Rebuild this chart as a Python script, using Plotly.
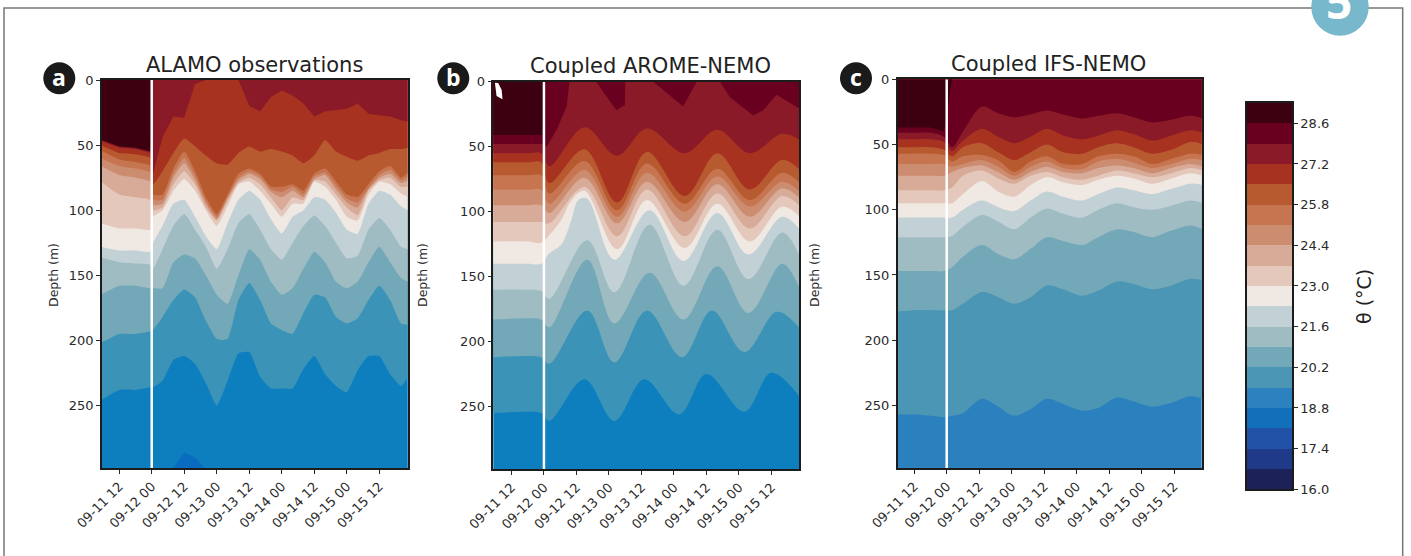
import plotly.graph_objects as go

W, H = 1411, 556
LEVELS = [16.0, 16.7, 17.4, 18.1, 18.8, 19.5, 20.2, 20.9, 21.6, 22.3, 23.0, 23.7, 24.4, 25.1, 25.8, 26.5, 27.2, 27.9, 28.6]
BAND_COLORS = ["#1c2258", "#203a8a", "#2252a8", "#1270ba", "#2b82be", "#4b95b5", "#72a8b8", "#9fbcc3", "#c2d1d6",
               "#efe8e3", "#e5c8bc", "#d8aa98", "#cc8c70", "#c67550", "#b85a30", "#a83220", "#8a1a28", "#6a0020", "#3c0010"]
CBAR_TICKS = [16.0, 17.4, 18.8, 20.2, 21.6, 23.0, 24.4, 25.8, 27.2, 28.6]
TICK_HOURS = [-12, 0, 12, 24, 36, 48, 60, 72, 84]
TICK_LABELS = ["09-11 12", "09-12 00", "09-12 12", "09-13 00", "09-13 12", "09-14 00", "09-14 12", "09-15 00", "09-15 12"]
DEPTH_TICKS = [0, 50, 100, 150, 200, 250]

# ---- ALAMO observations: isotherm depth (m) at each hour after 09-12 00
T_A = [-18.8, -12, -6, -0.5, 0.5, 4, 8, 12, 16, 20, 24, 28, 32, 36, 40, 44, 48, 52, 56, 60, 64, 68, 72, 76, 80, 84, 88, 92, 94.6]
A_18_8 = [300, 300, 300, 300, 300, 300, 298, 286, 290, 299, 300, 300, 300, 300, 300, 300, 300, 300, 300, 300, 300, 300, 300, 300, 300, 300, 300, 300, 300]
A_19_5 = [246, 238, 238, 236, 236, 231, 215, 212, 218, 233, 250, 231, 210, 209, 228, 237, 237, 237, 222, 212, 226, 235, 240, 223, 212, 212, 226, 235, 228]
A_20_2 = [202, 195, 195, 193, 192, 182, 169, 161, 167, 185, 199, 199, 169, 156, 169, 187, 192, 195, 179, 165, 167, 182, 187, 183, 169, 158, 169, 187, 188]
A_20_9 = [165, 158, 158, 160, 160, 160, 140, 134, 137, 150, 165, 172, 150, 130, 138, 155, 165, 160, 145, 132, 140, 155, 160, 155, 140, 128, 140, 152, 155]
A_21_6 = [136, 140, 141, 142, 145, 130, 112, 103, 115, 128, 145, 130, 110, 103, 115, 130, 138, 125, 112, 104, 112, 125, 137, 135, 115, 106, 115, 128, 130]
A_22_3 = [128, 131, 131, 132, 125, 112, 95, 92, 105, 120, 130, 110, 92, 85, 92, 107, 118, 105, 100, 90, 92, 102, 115, 118, 95, 85, 88, 97, 100]
A_23_0 = [110, 114, 114, 115, 105, 100, 85, 76, 85, 100, 112, 97, 80, 78, 85, 95, 105, 95, 95, 78, 82, 92, 105, 108, 88, 78, 80, 87, 90]
A_23_7 = [78, 88, 90, 92, 100, 98, 80, 70, 80, 98, 108, 93, 79, 75, 80, 90, 100, 90, 92, 77, 78, 88, 98, 104, 85, 77, 75, 82, 82]
A_24_4 = [66, 73, 75, 78, 96, 95, 75, 64, 77, 95, 107, 91, 77, 72, 76, 86, 90, 85, 90, 76, 73, 84, 94, 98, 84, 75, 72, 79, 77]
A_25_1 = [60, 66, 68, 71, 92, 92, 72, 60, 74, 93, 105, 90, 75, 70, 74, 84, 86, 82, 88, 74, 71, 81, 91, 94, 83, 73, 69, 77, 74]
A_25_8 = [54, 61, 63, 66, 88, 88, 68, 55, 70, 90, 103, 88, 72, 68, 72, 82, 82, 80, 85, 72, 68, 78, 88, 90, 80, 70, 66, 75, 71]
A_26_5 = [50, 56, 57, 60, 80, 70, 56, 45, 51, 58, 64, 65, 56, 51, 55, 53, 55, 58, 64, 58, 46, 55, 59, 62, 58, 56, 53, 53, 52]
A_27_2 = [47, 52, 53, 56, 72, 44, 28, 29, 3, 0, 0, 0, 0, 20, 24, 13, 8, 12, 18, 28, 24, 23, 22, 18, 26, 27, 28, 31, 32]
A_28_6 = [46, 51, 52, 55, 0, 0, 0, 0, 0, 0, 0, 0, 0, 0, 0, 0, 0, 0, 0, 0, 0, 0, 0, 0, 0, 0, 0, 0, 0]

# ---- Coupled AROME-NEMO: each isotherm is read at its own crests and troughs
T_B_DEEP = [-18.8, -6, -1, 2, 15, 26, 37, 50, 60, 74, 84, 94.6]
B_19_5 = [255, 254, 255, 261, 229, 261, 229, 256, 225, 254, 224, 243]
T_B_20_2 = [-18.8, -6, -1, 2, 16, 26, 38, 51, 62, 74, 86, 94.6]
B_20_2 = [212, 211, 212, 217, 176, 216, 176, 212, 176, 208, 177, 190]
T_B_MID = [-18.8, -6, -1, 2, 16, 26, 39, 51.5, 64, 75.5, 88, 94.6]
B_20_9 = [183, 182, 183, 189, 137, 186, 147, 183, 142, 178, 140, 160]
B_21_6 = [160, 160, 161, 167, 122, 162, 110, 157, 114, 152, 116, 135]
T_B_22_3 = [-18.8, -6, -1, 2, 6.5, 10.2, 12.7, 16, 26, 39, 51.5, 64, 75.5, 88, 94.6]
B_22_3 = [140, 140, 140, 132, 125, 106, 91, 90, 137, 99, 138, 101, 133, 104, 114]
T_B_23_0 = [-18.8, -6, -1, 2, 6.5, 10.2, 15, 27, 38, 52, 64, 76, 88, 94.6]
B_23_0 = [123, 123, 124, 118, 106, 91, 84, 129, 91, 128, 94, 123, 96, 104]
T_B_UP = [-18.8, -6, -1, 2, 15, 27, 38, 52, 64, 76, 88, 94.6]
B_23_7 = [108, 108, 108, 109, 81, 119, 83, 119, 86, 113, 88, 96]
B_24_4 = [95, 95, 95, 101, 74, 109, 77, 108, 79, 104, 82, 90]
B_25_1 = [83, 83, 83, 94, 68, 104, 70, 100, 73, 96, 77, 85]
B_25_8 = [72, 72, 72, 86, 61, 99, 63, 94, 67, 91, 70, 78]
B_26_5 = [62, 62, 62, 78, 52, 93, 54, 88, 55, 83, 60, 68]
B_27_2 = [55, 55, 55, 65, 35, 57, 36, 55, 37, 55, 40, 45]
T_B_27_9 = [-18.8, -6, -1, 1, 4.7, 8.4, 9.4, 19.4, 21.9, 26.8, 29.9, 30, 40.4, 51.4, 56.4, 65, 68.7, 77.3, 81, 85.9, 94.6]
B_27_9 = [48, 48, 48, 50, 37, 19, 0, 0, 8, 22, 18, 0, 0, 19, 0, 0, 12, 26, 22, 10, 21]
T_B_28_6 = [-18.8, -6, -0.5, 0.5, 94.6]
B_28_6 = [41, 41, 41, 0, 0]
GAP_T = [-18.1, -17.5, -15.3, -15.6, -16.9]
GAP_D = [0.8, 11, 13.5, 6.4, 1]

# ---- Coupled IFS-NEMO
T_C = [-18.8, -12, -6, -1, 2, 6, 13, 19, 25, 31, 37, 43, 50, 56, 63, 69, 76, 83, 90, 94.6]
C_19_5 = [257, 257, 258, 259, 258, 256, 245, 251, 258, 253, 245, 249, 254, 252, 244, 247, 251, 248, 243, 245]
C_20_2 = [178, 177, 177, 177, 177, 172, 163, 167, 172, 167, 158, 161, 166, 162, 155, 157, 161, 158, 153, 154]
C_20_9 = [147, 147, 147, 147, 144, 136, 127, 134, 138, 130, 121, 124, 127, 121, 115, 117, 121, 116, 112, 115]
C_21_6 = [121, 121, 121, 121, 120, 113, 104, 109, 115, 106, 99, 103, 106, 100, 95, 98, 100, 97, 93, 95]
C_22_3 = [106, 106, 106, 106, 106, 100, 93, 98, 101, 93, 86, 90, 93, 88, 83, 85, 88, 84, 80, 81]
C_23_0 = [95, 95, 95, 95, 95, 88, 78, 86, 90, 81, 75, 79, 81, 77, 74, 76, 80, 76, 72, 74]
C_23_7 = [85, 85, 85, 85, 83, 74, 70, 76, 80, 74, 71, 75, 77, 74, 70, 72, 75, 72, 68, 70]
C_24_4 = [74, 74, 74, 74, 71, 68, 66, 71, 77, 71, 67, 71, 72, 68, 66, 68, 72, 68, 65, 67]
C_25_1 = [65, 65, 65, 65, 67, 65, 62, 67, 74, 67, 63, 68, 69, 63, 61, 64, 68, 65, 61, 62]
C_25_8 = [57, 57, 57, 58, 63, 59, 58, 62, 71, 63, 59, 65, 65, 59, 57, 59, 65, 61, 57, 58]
C_26_5 = [52, 52, 52, 54, 59, 52, 49, 56, 62, 56, 50, 56, 57, 52, 49, 52, 57, 54, 48, 50]
C_27_2 = [46, 46, 46, 48, 55, 47, 38, 44, 49, 44, 38, 43, 46, 43, 39, 42, 47, 43, 39, 41]
C_27_9 = [41, 41, 41, 44, 52, 40, 21, 26, 29, 27, 24, 27, 30, 28, 26, 29, 33, 31, 28, 30]
C_28_6 = [37, 37, 37, 40, 0, 0, 0, 0, 0, 0, 0, 0, 0, 0, 0, 0, 0, 0, 0, 0]

TITLES = ["ALAMO observations", "Coupled AROME-NEMO", "Coupled IFS-NEMO"]
PANEL_LETTERS = ["a", "b", "c"]
COLORBAR_TITLE = "θ (°C)"
DEPTH_TITLE = "Depth (m)"
SPLIT_HOUR = 0
BOX_NUMBER = "5"

FONT = "DejaVu Sans"
INK = "#2a2a2a"
AXIS_LINE = "#1c1c1c"
BLUE_A = "#0d7fbf"
TEAL_A = "#3b93b7"


def px_x(p):
    return p / W


def px_y(p):
    return 1 - p / H


panels = [
    dict(n="", box=(102, 407.5, 80, 468), rng=(-18.35, 94.4), bg="#0a6cc0",
         lines=[(18.8, T_A, A_18_8, BLUE_A, "linear"), (19.5, T_A, A_19_5, TEAL_A, "spline"), (20.2, T_A, A_20_2, None, "spline"),
                (20.9, T_A, A_20_9, None, "spline"), (21.6, T_A, A_21_6, None, "spline"), (22.3, T_A, A_22_3, None, "spline"),
                (23.0, T_A, A_23_0, None, "spline"), (23.7, T_A, A_23_7, None, "spline"), (24.4, T_A, A_24_4, None, "spline"),
                (25.1, T_A, A_25_1, None, "spline"), (25.8, T_A, A_25_8, None, "spline"), (26.5, T_A, A_26_5, None, "spline"),
                (27.2, T_A, A_27_2, None, "linear"), (28.6, T_A, A_28_6, None, "linear")],
         smoothing=0.5, title_x=254, title_y=65, letter_x=59.3, depth_x=53),
    dict(n="2", box=(493.3, 799.3, 81.7, 469), rng=(-18.7, 94.3), bg=BLUE_A,
         lines=[(19.5, T_B_DEEP, B_19_5, TEAL_A, "spline"), (20.2, T_B_20_2, B_20_2, None, "spline"),
                (20.9, T_B_MID, B_20_9, None, "spline"), (21.6, T_B_MID, B_21_6, None, "spline"),
                (22.3, T_B_22_3, B_22_3, None, "spline"), (23.0, T_B_23_0, B_23_0, None, "spline"),
                (23.7, T_B_UP, B_23_7, None, "spline"), (24.4, T_B_UP, B_24_4, None, "spline"),
                (25.1, T_B_UP, B_25_1, None, "spline"), (25.8, T_B_UP, B_25_8, None, "spline"),
                (26.5, T_B_UP, B_26_5, None, "spline"), (27.2, T_B_UP, B_27_2, None, "spline"),
                (27.9, T_B_27_9, B_27_9, None, "linear"), (28.6, T_B_28_6, B_28_6, None, "linear")],
         smoothing=1.0, title_x=650, title_y=66, letter_x=453.3, depth_x=422),
    dict(n="3", box=(897.7, 1201.7, 79.3, 468), rng=(-18.1, 94.2), bg="#2b80be",
         lines=[(19.5, T_C, C_19_5, None, "spline"), (20.2, T_C, C_20_2, None, "spline"), (20.9, T_C, C_20_9, None, "spline"),
                (21.6, T_C, C_21_6, None, "spline"), (22.3, T_C, C_22_3, None, "spline"), (23.0, T_C, C_23_0, None, "spline"),
                (23.7, T_C, C_23_7, None, "spline"), (24.4, T_C, C_24_4, None, "spline"), (25.1, T_C, C_25_1, None, "spline"),
                (25.8, T_C, C_25_8, None, "spline"), (26.5, T_C, C_26_5, None, "spline"), (27.2, T_C, C_27_2, None, "spline"),
                (27.9, T_C, C_27_9, None, "spline"), (28.6, T_C, C_28_6, None, "linear")],
         smoothing=0.9, title_x=1048, title_y=64, letter_x=856, depth_x=814),
]

fig = go.Figure()
annotations = []
shapes = []
layout_axes = {}

for i, p in enumerate(panels):
    xa, ya = "x" + p["n"], "y" + p["n"]
    x0, x1, y0, y1 = p["box"]
    layout_axes["xaxis" + p["n"]] = dict(
        domain=[px_x(x0), px_x(x1)], range=list(p["rng"]), anchor=ya, tickvals=TICK_HOURS, ticktext=TICK_LABELS,
        tickangle=-45, ticks="outside", ticklen=4, tickcolor=INK, tickfont=dict(family=FONT, size=13, color=INK),
        showgrid=False, zeroline=False, showline=True, linecolor=AXIS_LINE, linewidth=1.5, mirror=True, automargin=False)
    layout_axes["yaxis" + p["n"]] = dict(
        domain=[px_y(y1), px_y(y0)], range=[298, 0], anchor=xa, tickvals=DEPTH_TICKS,
        ticks="outside", ticklen=4, tickcolor=INK, tickfont=dict(family=FONT, size=13, color=INK),
        showgrid=False, zeroline=False, showline=True, linecolor=AXIS_LINE, linewidth=1.5, mirror=True, automargin=False)
    # paint the background band, then each isotherm's fill up to the surface, deepest first
    shapes.append(dict(type="rect", xref="paper", yref="paper", x0=px_x(x0), x1=px_x(x1), y0=px_y(y1), y1=px_y(y0),
                       fillcolor=p["bg"], line_width=0, layer="below"))
    for level, times, depths, override, shape in p["lines"]:
        color = override or BAND_COLORS[LEVELS.index(level)]
        line = dict(width=0, shape=shape)
        if shape == "spline":
            line["smoothing"] = p["smoothing"]
        fig.add_trace(go.Scatter(x=times, y=depths, xaxis=xa, yaxis=ya, mode="lines", fill="tozeroy",
                                 fillcolor=color, line=line, hoverinfo="skip", showlegend=False))
    if i == 1:
        fig.add_trace(go.Scatter(x=GAP_T, y=GAP_D, xaxis=xa, yaxis=ya, mode="lines", fill="toself",
                                 fillcolor="white", line=dict(width=0), hoverinfo="skip", showlegend=False))
    fig.add_trace(go.Scatter(x=[SPLIT_HOUR, SPLIT_HOUR], y=[0, 298], xaxis=xa, yaxis=ya, mode="lines",
                             line=dict(color="white", width=2.5), hoverinfo="skip", showlegend=False))
    annotations.append(dict(text=TITLES[i], xref="paper", yref="paper", x=px_x(p["title_x"]), y=px_y(p["title_y"]),
                            showarrow=False, xanchor="center", yanchor="middle",
                            font=dict(family=FONT, size=21, color="#222222")))
    annotations.append(dict(text=DEPTH_TITLE, xref="paper", yref="paper", x=px_x(p["depth_x"]), y=px_y(275),
                            showarrow=False, textangle=-90, xanchor="center", yanchor="middle",
                            font=dict(family=FONT, size=12.5, color=INK)))
    r = 16
    shapes.append(dict(type="circle", xref="paper", yref="paper", x0=px_x(p["letter_x"] - r), x1=px_x(p["letter_x"] + r),
                       y0=px_y(78.3 + r), y1=px_y(78.3 - r), fillcolor="#1a1a1a", line_width=0))
    annotations.append(dict(text="<b>%s</b>" % PANEL_LETTERS[i], xref="paper", yref="paper", x=px_x(p["letter_x"]),
                            y=px_y(77), showarrow=False, xanchor="center", yanchor="middle",
                            font=dict(family="Open Sans", size=23, color="white")))

# colour bar
fig.add_trace(go.Bar(x=[0] * len(LEVELS), y=[0.7] * len(LEVELS), base=LEVELS, width=1, xaxis="x4", yaxis="y4",
                     marker=dict(color=BAND_COLORS, line_width=0), hoverinfo="skip", showlegend=False))
layout_axes["xaxis4"] = dict(domain=[px_x(1247), px_x(1292)], range=[-0.5, 0.5], anchor="y4", visible=True,
                             showticklabels=False, ticks="", showgrid=False, zeroline=False, showline=True,
                             linecolor=AXIS_LINE, linewidth=1.5, mirror=True, automargin=False)
layout_axes["yaxis4"] = dict(domain=[px_y(489.3), px_y(103)], range=[16, 29.3], anchor="x4", side="right",
                             tickvals=CBAR_TICKS, ticktext=["%.1f" % v for v in CBAR_TICKS], ticks="outside", ticklen=4,
                             tickcolor=INK, tickfont=dict(family=FONT, size=13, color=INK), showgrid=False,
                             zeroline=False, showline=True, linecolor=AXIS_LINE, linewidth=1.5, mirror=True, automargin=False)
annotations.append(dict(text=COLORBAR_TITLE, xref="paper", yref="paper", x=px_x(1364), y=px_y(297), showarrow=False,
                        textangle=-90, xanchor="center", yanchor="middle", font=dict(family=FONT, size=19, color="#222222")))

# page frame and section badge
shapes.append(dict(type="rect", xref="paper", yref="paper", x0=px_x(4), x1=px_x(1402.7), y0=-0.1, y1=px_y(8),
                   line=dict(color="#777777", width=1.5), fillcolor="rgba(0,0,0,0)"))
shapes.append(dict(type="circle", xref="paper", yref="paper", x0=px_x(1340 - 28.7), x1=px_x(1340 + 28.7),
                   y0=px_y(7 + 28.7), y1=px_y(7 - 28.7), fillcolor="#78b8cc", line_width=0))
annotations.append(dict(text="<b>%s</b>" % BOX_NUMBER, xref="paper", yref="paper", x=px_x(1339), y=px_y(34),
                        showarrow=False, xanchor="center", yanchor="bottom",
                        font=dict(family="Open Sans", size=46, color="white")))

fig.update_layout(width=W, height=H, margin=dict(l=0, r=0, t=0, b=0, autoexpand=False), paper_bgcolor="white", plot_bgcolor="rgba(0,0,0,0)",
                  annotations=annotations, shapes=shapes, bargap=0, **layout_axes)
fig.write_html("out.html", config={"displayModeBar": False}, post_script="document.body.style.margin='0';")
